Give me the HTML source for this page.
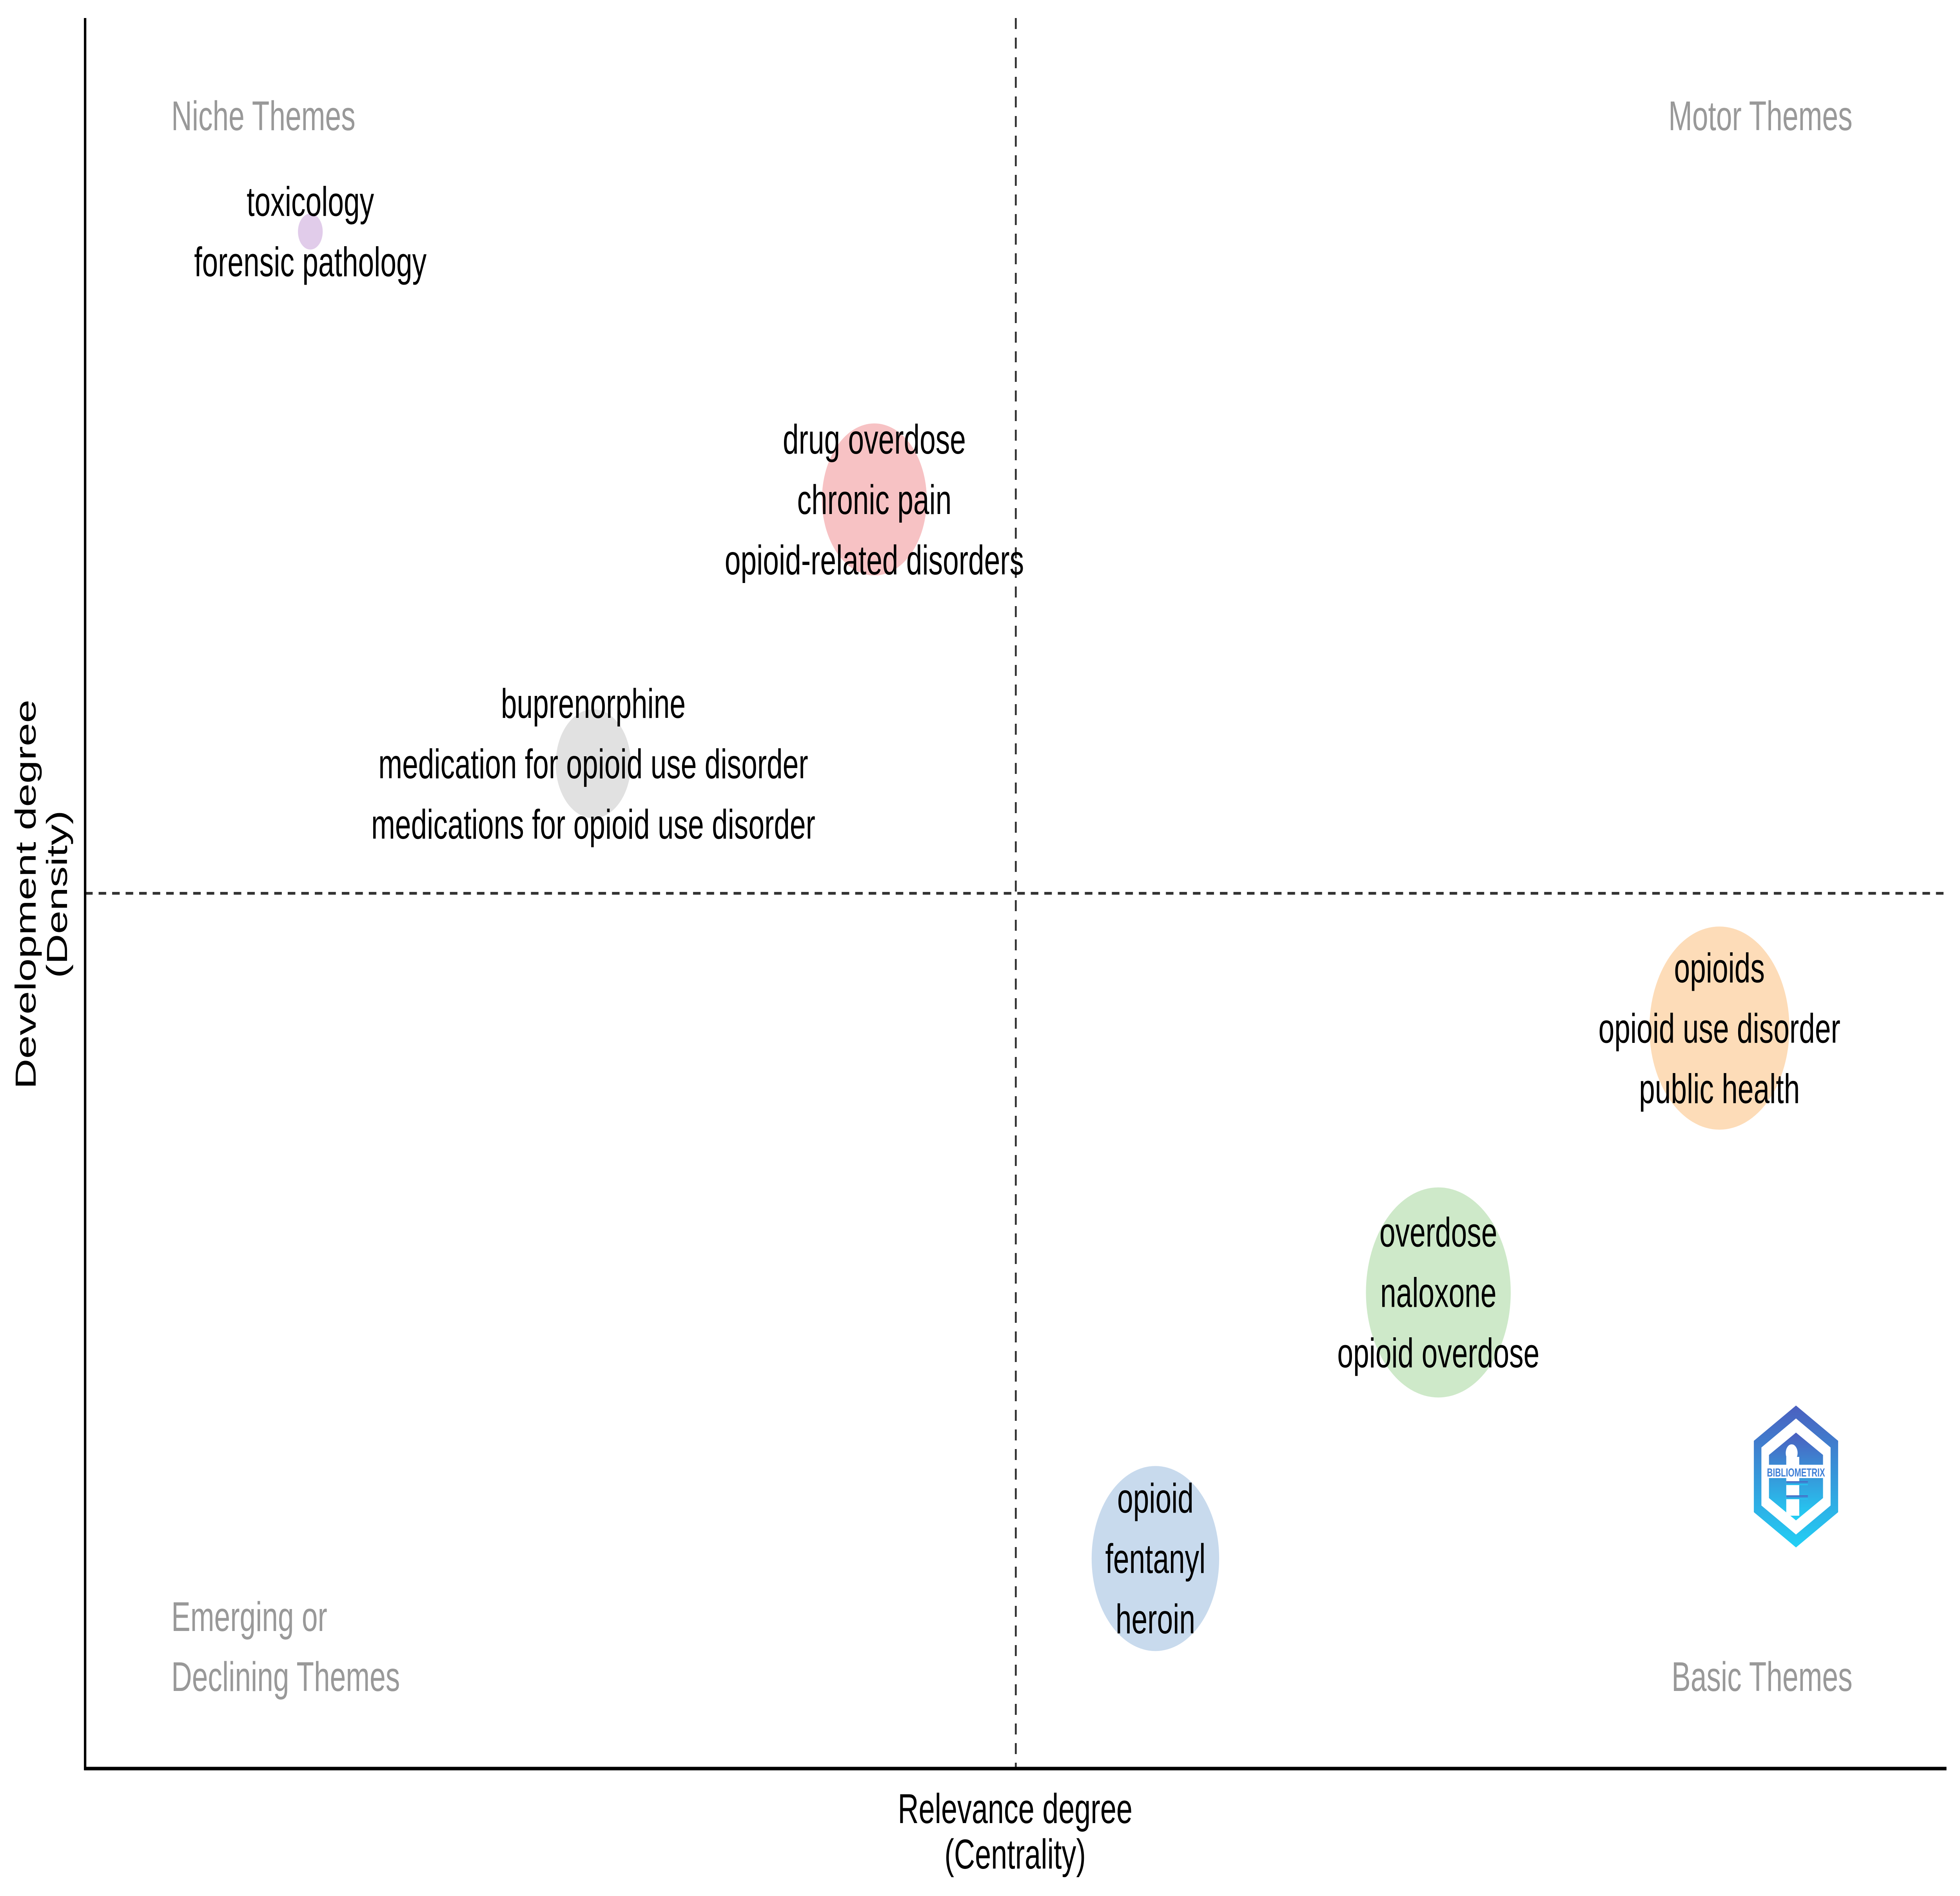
<!DOCTYPE html>
<html><head><meta charset="utf-8"><style>
html,body{margin:0;padding:0;background:#fff;overflow:hidden;width:100%;height:100%;}
svg{display:block;width:100vw;height:100vh;font-family:"Liberation Sans",Arial,sans-serif;}
</style></head><body>
<svg id="chart" viewBox="0 0 7254 4836" preserveAspectRatio="none" xmlns="http://www.w3.org/2000/svg">
<defs>
<linearGradient id="lg" x1="0" y1="0" x2="0" y2="1">
<stop offset="0" stop-color="#4b5fbf"/><stop offset="1" stop-color="#22d0f5"/>
</linearGradient>
</defs>
<g id="marks"></g>
<g fill="#999" font-size="106">
<text x="634" y="332">Niche Themes</text>
<text x="6856" y="332" text-anchor="end">Motor Themes</text>
<text x="634" y="4160">Emerging or</text>
<text x="634" y="4313">Declining Themes</text>
<text x="6856" y="4313" text-anchor="end">Basic Themes</text>
</g>
<g font-size="107" text-anchor="middle" fill="#000">
<text x="3757" y="4650">Relevance degree</text>
<text x="3757" y="4766">(Centrality)</text>
</g>
<g font-size="107" text-anchor="middle" fill="#000" transform="translate(132,2281) rotate(-90)">
<text x="0" y="0">Development degree</text>
<text x="0" y="116">(Density)</text>
</g>
<g transform="translate(6647,3766)">
<polygon points="0,-181 156,-91 156,91 0,181 -156,91 -156,-91" fill="url(#lg)"/>
<polygon points="0,-148 128,-74 128,74 0,148 -128,74 -128,-74" fill="#fff"/>
<polygon points="0,-112 100,-55 100,55 0,112 -100,55 -100,-55" fill="url(#lg)"/>
<rect x="-36" y="-50" width="48" height="150" fill="#fff"/>
<circle cx="-16" cy="-60" r="22" fill="#fff"/>
<rect x="-36" y="12" width="80" height="10" fill="url(#lg)"/>
<rect x="-36" y="48" width="80" height="10" fill="url(#lg)"/>
<rect x="-110" y="-30" width="220" height="34" fill="#fff"/>
<text x="0" y="0" font-size="30" font-weight="bold" text-anchor="middle" fill="#3f7fd6">BIBLIOMETRIX</text>
</g>
</svg>
<script>
const labels = [
 ["toxicology","forensic pathology"],
 ["drug overdose","chronic pain","opioid-related disorders"],
 ["buprenorphine","medication for opioid use disorder","medications for opioid use disorder"],
 ["opioids","opioid use disorder","public health"],
 ["overdose","naloxone","opioid overdose"],
 ["opioid","fentanyl","heroin"]
];
const centrality = [12.1, 42.4, 27.3, 87.8, 72.7, 57.5];
const density = [87.8, 72.5, 57.4, 42.3, 27.2, 12.0];
const frequency = [21, 376, 193, 671, 718, 557];
const colors = ["#dcc3e6","#f6b7ba","#dcdcdc","#fdd6ab","#c6e5c0","#bed4ea"];
const xMid = 50, yMid = 50;

const NS="http://www.w3.org/2000/svg";
const X0=315,X1=7204,Y0=4511,Y1=46;
const sx=v=>X0+(X1-X0)*v/100;
const sy=v=>Y0-(Y0-Y1)*v/100;
const sr=f=>Math.sqrt(f)*10;
const g=document.getElementById('marks');
function mk(t,a){const e=document.createElementNS(NS,t);for(const k in a)e.setAttribute(k,a[k]);return e;}
let vl=mk('line',{x1:sx(xMid),x2:sx(xMid),y1:Y1,y2:Y0,stroke:'#333','stroke-width':7,'stroke-dasharray':'28 22'});


g.appendChild(vl);
let hl=mk('line',{x1:X0,x2:X1,y1:sy(yMid),y2:sy(yMid),stroke:'#333','stroke-width':7,'stroke-dasharray':'28 22'});


g.appendChild(hl);
let ya=mk('line',{x1:X0,x2:X0,y1:Y1,y2:Y0+4,stroke:'#000','stroke-width':9});


g.appendChild(ya);
let xa=mk('line',{x1:X0-4,x2:X1,y1:Y0,y2:Y0,stroke:'#000','stroke-width':9});


g.appendChild(xa);
for(let i=0;i<labels.length;i++){
 const cx=sx(centrality[i]),cy=sy(density[i]);
 const c=mk('circle',{cx:cx,cy:cy,r:sr(frequency[i]),fill:colors[i],'fill-opacity':0.85});
 
 
 g.appendChild(c);
}
for(let i=0;i<labels.length;i++){
 const cx=sx(centrality[i]),cy=sy(density[i]);
 const n=labels[i].length, sp=154;
 labels[i].forEach((s,j)=>{
  const t=mk('text',{x:cx,y:cy+(j-(n-1)/2)*sp+37,'font-size':106,'text-anchor':'middle',fill:'#000'});
  t.textContent=s;
  
  
  g.appendChild(t);
 });
}
</script>
</body></html>
